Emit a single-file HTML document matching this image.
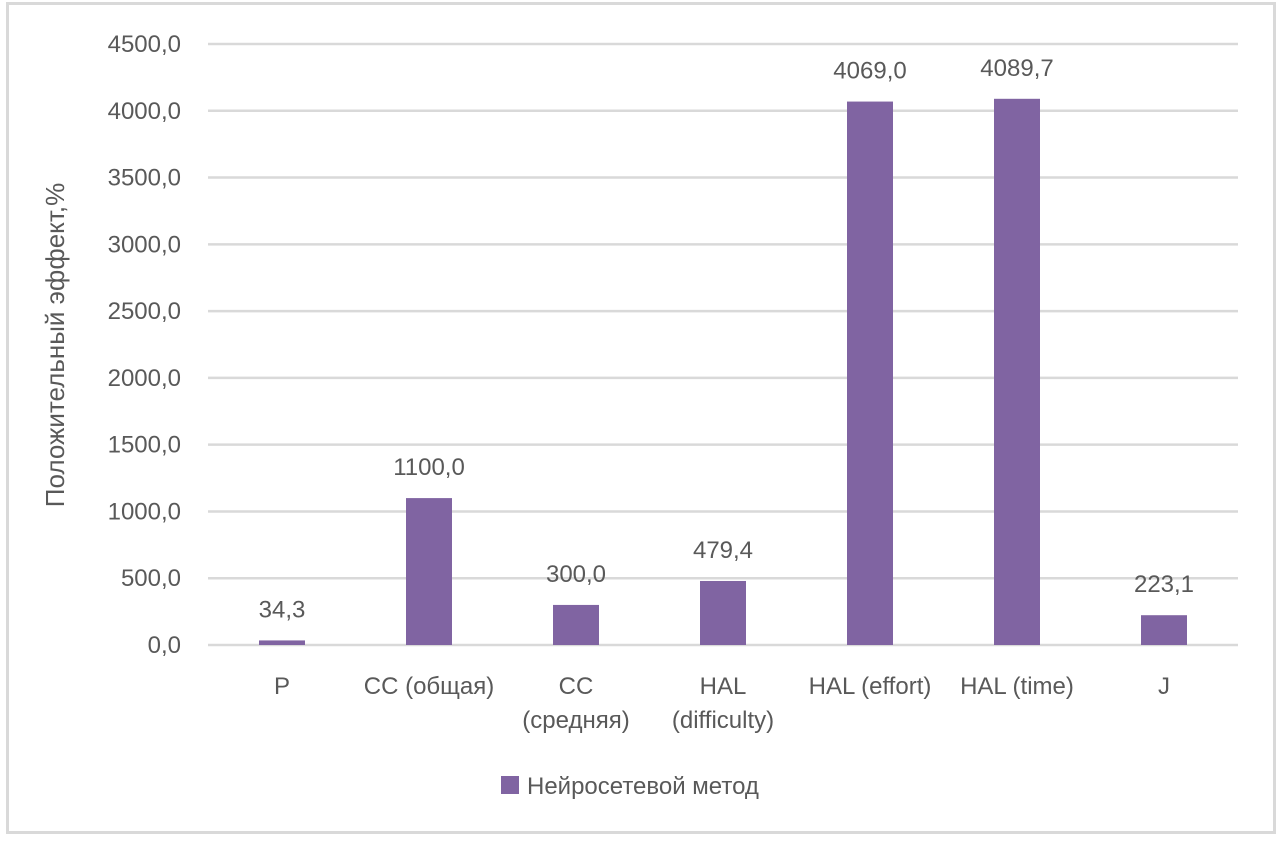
<!DOCTYPE html>
<html><head><meta charset="utf-8"><style>
body{margin:0;background:#fff;}
svg text{font-family:"Liberation Sans","DejaVu Sans",sans-serif;fill:#595959;}
</style></head><body>
<svg id="chart" width="1283" height="844">
<rect x="7.5" y="3.5" width="1267" height="829" fill="#fff" stroke="#d9d9d9" stroke-width="3"/>
<g id="grid"></g><g id="bars"></g><g id="labels"></g>
<text transform="translate(64,345) rotate(-90)" text-anchor="middle" font-size="26">Положительный эффект,%</text>
<rect x="501" y="776" width="18" height="18" fill="#8064a2"/>
<text x="527" y="794" font-size="24">Нейросетевой метод</text>
</svg>
<script>
const categories=[["P"],["CC (общая)"],["CC","(средняя)"],["HAL","(difficulty)"],["HAL (effort)"],["HAL (time)"],["J"]];
const values=[34.3,1100.0,300.0,479.4,4069.0,4089.7,223.1];
const ticks=[0,500,1000,1500,2000,2500,3000,3500,4000,4500];
const NS="http://www.w3.org/2000/svg";
const y0=645,y1=44,vmax=4500,x0=208.5,band=147,bw=46;
const ys=v=>y0-(v/vmax)*(y0-y1);
const xs=i=>x0+band*(i+0.5);
const fmt=v=>v.toFixed(1).replace('.',',');
function mk(t,a,p){const e=document.createElementNS(NS,t);for(const k in a)e.setAttribute(k,a[k]);p.appendChild(e);return e;}
const g=document.getElementById('grid'),b=document.getElementById('bars'),l=document.getElementById('labels');
ticks.forEach(t=>{
 const ln=mk('line',{x1:208,x2:1238,y1:ys(t),y2:ys(t),stroke:'#d9d9d9','stroke-width':2.5},g);
 
 
 const tx=mk('text',{x:181,y:ys(t)+8,'text-anchor':'end','font-size':24},l);
 tx.textContent=fmt(t);
 
 
});
values.forEach((v,i)=>{
 const r=mk('rect',{x:xs(i)-bw/2,y:ys(v),width:bw,height:y0-ys(v),fill:'#8064a2'},b);
 
 
 const t=mk('text',{x:xs(i),y:ys(v)-23,'text-anchor':'middle','font-size':24,fill:'#404040'},l);
 t.textContent=fmt(v);
 
 
 categories[i].forEach((line,k)=>{
  const c=mk('text',{x:xs(i),y:694+k*34,'text-anchor':'middle','font-size':24},l);
  c.textContent=line;
  
  
 });
});
</script>
</body></html>
